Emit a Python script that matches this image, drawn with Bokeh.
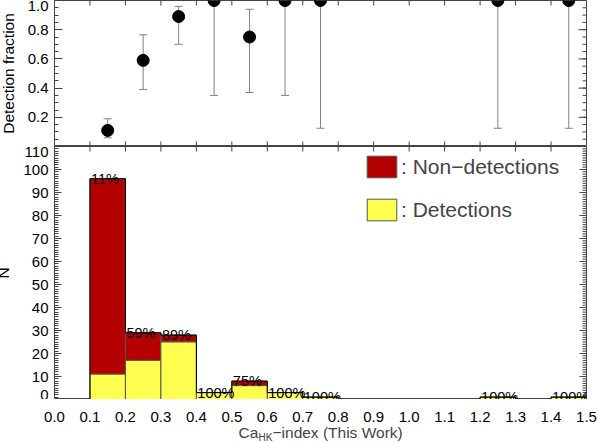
import math
from bokeh.plotting import figure
from bokeh.models import (Range1d, FixedTicker, Whisker, TeeHead, Legend,
                          LegendItem, Label, ColumnDataSource, PrintfTickFormatter)
from bokeh.layouts import column
from bokeh.embed import file_html
from bokeh.resources import INLINE
from bokeh.core.properties import value

# ---------------- data ----------------
bin_width = 0.1
bin_left = [0.0, 0.1, 0.2, 0.3, 0.4, 0.5, 0.6, 0.7, 0.8, 0.9, 1.0, 1.1, 1.2, 1.3, 1.4]
n_total = [0, 96, 29, 28, 3, 8, 3, 1, 0, 0, 0, 0, 1, 0, 1]
n_detect = [0, 11, 17, 25, 3, 6, 3, 1, 0, 0, 0, 0, 1, 0, 1]

frac_x = [0.15, 0.25, 0.35, 0.45, 0.55, 0.65, 0.75, 1.25, 1.45]
frac = [0.11, 0.59, 0.89, 1.0, 0.75, 1.0, 1.0, 1.0, 1.0]
frac_lo = [0.06, 0.39, 0.70, 0.35, 0.37, 0.35, 0.125, 0.125, 0.125]
frac_hi = [0.19, 0.765, 0.96, 1.0, 0.94, 1.0, 1.0, 1.0, 1.0]

x_ticks = [0.0, 0.1, 0.2, 0.3, 0.4, 0.5, 0.6, 0.7, 0.8, 0.9, 1.0, 1.1, 1.2, 1.3, 1.4, 1.5]
frac_ticks = [0.2, 0.4, 0.6, 0.8, 1.0]
n_ticks = [0, 10, 20, 30, 40, 50, 60, 70, 80, 90, 100, 110]

FONT = "Liberation Sans"
AX = "#444444"
RED = "#B40000"
YEL = "#FFFF50"

FW = 532          # frame width
LEFT = 64
RIGHT = 12
X0, X1 = x_ticks[0], x_ticks[-1]

minor_frac = [round(0.05 * k, 2) for k in range(0, 21)]
minor_n = list(range(0, 111))
inner_x = x_ticks[1:-1]


def ticks_in(p, xs, ys, length, angle):
    p.ray(x=xs, y=ys, length=length, length_units="screen", angle=angle,
          line_color=AX, line_width=1)


def style_left(ax, ticker, tin, minor_in, fmt, title, title_standoff):
    ax.ticker = ticker
    ax.formatter = PrintfTickFormatter(format=fmt)
    ax.axis_line_color = None
    ax.major_tick_line_color = AX
    ax.minor_tick_line_color = AX
    ax.major_tick_in = tin
    ax.major_tick_out = 0
    ax.minor_tick_in = minor_in
    ax.minor_tick_out = 0
    ax.major_label_text_font = FONT
    ax.major_label_text_font_size = "15px"
    ax.major_label_text_color = "black"
    ax.major_label_standoff = 6
    ax.axis_label = title
    ax.axis_label_text_font = FONT
    ax.axis_label_text_font_size = "15.5px"
    ax.axis_label_text_font_style = "normal"
    ax.axis_label_text_color = "black"
    ax.axis_label_standoff = title_standoff


# ---------------- top panel ----------------
F1, F0 = 1.0, 0.0
p1 = figure(frame_width=FW, frame_height=146, x_range=Range1d(X0, X1), y_range=Range1d(F0, F1),
            output_backend="svg", toolbar_location=None, x_axis_location=None,
            min_border_left=LEFT, min_border_right=RIGHT, min_border_top=0, min_border_bottom=0)
p1.grid.visible = False
p1.outline_line_color = AX
style_left(p1.yaxis[0], FixedTicker(ticks=frac_ticks, minor_ticks=minor_frac), 8, 4, "%.1f",
           "Detection fraction", 8)

ticks_in(p1, [X1] * len(frac_ticks), frac_ticks, 8, math.pi)
ticks_in(p1, [X1] * len(minor_frac), minor_frac, 4, math.pi)
ticks_in(p1, inner_x, [F1] * len(inner_x), 5, -math.pi / 2)
ticks_in(p1, inner_x, [F0] * len(inner_x), 5, math.pi / 2)

src_f = ColumnDataSource(dict(x=frac_x, y=frac, lo=frac_lo, hi=frac_hi))
p1.add_layout(Whisker(source=src_f, base="x", lower="lo", upper="hi", line_color="#808080",
                      line_width=1,
                      upper_head=TeeHead(size=8, line_color="#808080"),
                      lower_head=TeeHead(size=8, line_color="#808080")))
p1.scatter("x", "y", source=src_f, size=12, color="black")

# ---------------- bottom panel ----------------
N0, N1 = 0, 110
p2 = figure(frame_width=FW, frame_height=253, x_range=Range1d(X0, X1), y_range=Range1d(N0, N1),
            output_backend="svg", toolbar_location=None, x_axis_location=None,
            min_border_left=LEFT, min_border_right=RIGHT, min_border_top=0, min_border_bottom=0)
p2.grid.visible = False
p2.outline_line_color = AX
style_left(p2.yaxis[0], FixedTicker(ticks=n_ticks, minor_ticks=minor_n), 7, 4, "%d", "N", 8)

ticks_in(p2, [X1] * len(n_ticks), n_ticks, 7, math.pi)
ticks_in(p2, [X1] * len(minor_n), minor_n, 4, math.pi)
ticks_in(p2, inner_x, [N1] * len(inner_x), 5, -math.pi / 2)

centers = [b + bin_width / 2 for b in bin_left]
idx = [i for i, t in enumerate(n_total) if t > 0]
src_b = ColumnDataSource(dict(
    x=[centers[i] for i in idx],
    left=[bin_left[i] for i in idx],
    tot=[n_total[i] for i in idx],
    det=[n_detect[i] for i in idx],
    zero=[0 for i in idx],
    pct=["%d%%" % round(100.0 * n_detect[i] / n_total[i]) for i in idx],
))
r_red = p2.vbar(x="x", width=bin_width, bottom="det", top="tot", source=src_b,
                fill_color=RED, line_color="#555555", line_width=1)
r_yel = p2.vbar(x="x", width=bin_width, bottom="zero", top="det", source=src_b,
                fill_color=YEL, line_color="#555555", line_width=1)

# histogram outline (step)
ox = [bin_left[0] + bin_width / 2]
oy = [n_total[0]]
for i in range(1, len(bin_left)):
    ox += [bin_left[i], bin_left[i]]
    oy += [n_total[i - 1], n_total[i]]
ox += [bin_left[-1] + bin_width, bin_left[-1] + bin_width]
oy += [n_total[-1], 0]
p2.line(ox, oy, line_color="black", line_width=1)

p2.text(x="left", y="tot", text="pct", source=src_b, x_offset=1,
        text_font=value(FONT), text_font_size="14.5px", text_color="black",
        text_baseline="alphabetic", text_align="left")

legend = Legend(items=[LegendItem(label=": Non\u2212detections", renderers=[r_red]),
                       LegendItem(label=": Detections", renderers=[r_yel])],
                location=(309, 176), padding=0, margin=0, spacing=16,
                glyph_width=37, glyph_height=27, label_standoff=1,
                label_text_font=FONT, label_text_font_size="21px",
                background_fill_alpha=0, border_line_alpha=0)
p2.add_layout(legend)

# ---------------- x tick labels + x-axis title strip ----------------
p3 = figure(frame_width=FW, frame_height=17, x_range=Range1d(X0, X1), y_range=Range1d(0, 1),
            output_backend="svg", toolbar_location=None, x_axis_location="above",
            y_axis_location=None, min_border_left=LEFT, min_border_right=RIGHT,
            min_border_top=26, min_border_bottom=0)
p3.grid.visible = False
p3.outline_line_color = None
xa = p3.xaxis[0]
xa.ticker = FixedTicker(ticks=x_ticks, minor_ticks=[])
xa.formatter = PrintfTickFormatter(format="%.1f")
xa.axis_line_color = None
xa.major_tick_in = 0
xa.major_tick_out = 0
xa.minor_tick_in = 0
xa.minor_tick_out = 0
xa.major_label_text_font = FONT
xa.major_label_text_font_size = "15px"
xa.major_label_text_color = "black"
xa.major_label_standoff = 4

p3.add_layout(Label(x=0.5188, y=0.58, text="Ca", text_font=FONT,
                    text_font_size="15.5px", text_baseline="middle", text_align="left"))
p3.add_layout(Label(x=0.5752, y=0.29, text="HK", text_font=FONT,
                    text_font_size="10px", text_baseline="middle", text_align="left"))
p3.add_layout(Label(x=0.6147, y=0.58, text="\u2212index (This Work)",
                    text_font=FONT, text_font_size="15.5px", text_baseline="middle",
                    text_align="left"))

layout = column(p1, p2, p3, spacing=0,
                styles={"margin-left": "-10px", "margin-bottom": "-16px",
                        "margin-right": "-16px"})

open("out.html", "w").write(file_html(layout, INLINE))
